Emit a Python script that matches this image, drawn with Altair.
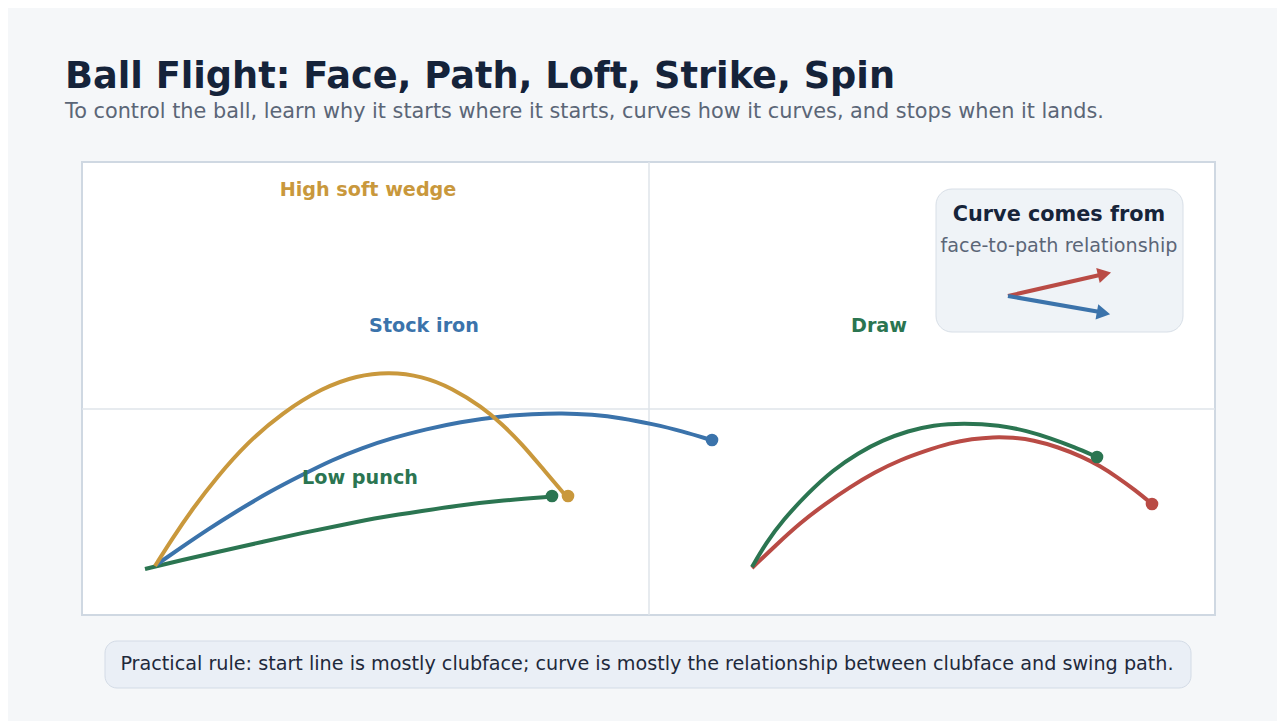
import altair as alt
import pandas as pd

# ---------------- data (chart units: downrange x, height y) ----------------
wedge_x = [73, 90, 110, 135, 165, 200, 240, 275, 307, 340, 370, 400, 420, 440, 461, 484]
wedge_y = [49, 76, 105.5, 138, 172, 202, 227, 239.5, 243, 239, 227, 208, 191, 171, 146, 119]

iron_x = [74, 100, 125, 155, 187, 220, 250, 280, 310, 345, 377, 420, 450, 480, 510, 540, 570, 600, 629]
iron_y = [50, 68, 85, 104, 123, 140, 155, 167, 177, 186, 193, 199, 201, 202, 200.5, 197, 191, 184, 175]

punch_x = [63, 100, 140, 180, 220, 260, 300, 340, 380, 420, 470]
punch_y = [46, 55, 64, 73, 82, 90, 98, 104, 110, 114.5, 118.5]

draw_x = [670, 684, 701, 726, 751, 776, 801, 826, 851, 881, 918, 945, 968, 992, 1015]
draw_y = [48, 72, 95, 122, 145, 162, 175, 184, 190, 192, 190, 184, 177, 168, 158]

fade_x = [670, 694, 718, 743, 768, 793, 818, 843, 868, 890, 911, 931, 951, 976, 1001, 1018, 1035, 1053, 1070]
fade_y = [47, 70, 92, 111, 128, 143, 155, 164, 172, 176, 178, 177.5, 175, 168, 158, 149, 138, 125, 111]

shots = ["Low punch", "Stock iron", "High soft wedge", "Fade", "Draw"]
land_x = [470, 630, 486, 1070, 1015]
land_y = [119, 175, 119, 111, 158]
colors = ["#2b7551", "#3b73ab", "#c9983c", "#b94b45", "#2b7551"]

panel_divider_x = [567]
ground_grid_y = [206]

TITLE = "Ball Flight: Face, Path, Loft, Strike, Spin"
SUBTITLE = ("To control the ball, learn why it starts where it starts, "
            "curves how it curves, and stops when it lands.")
NOTE = ("Practical rule: start line is mostly clubface; curve is mostly the "
        "relationship between clubface and swing path.")
LEGEND_TITLE = "Curve comes from"
LEGEND_SUB = "face-to-path relationship"

# ---------------- tables ----------------
rows = []
for name, xs_, ys_ in [("Low punch", punch_x, punch_y), ("Stock iron", iron_x, iron_y),
                       ("High soft wedge", wedge_x, wedge_y), ("Fade", fade_x, fade_y),
                       ("Draw", draw_x, draw_y)]:
    for i, (x, y) in enumerate(zip(xs_, ys_)):
        rows.append({"shot": name, "i": i, "x": x, "y": y})
traj = pd.DataFrame(rows)
land = pd.DataFrame({"shot": shots, "x": land_x, "y": land_y})

W, H = 1133, 453
xs = alt.Scale(domain=[0, W], nice=False, zero=False)
ys = alt.Scale(domain=[0, H], nice=False, zero=False)
cscale = alt.Scale(domain=shots, range=colors)
FONT = "DejaVu Sans"

grid = alt.Chart(pd.DataFrame({"gx": panel_divider_x, "gy": ground_grid_y})).mark_rule(
    color="#dfe4ea", strokeWidth=1.5
)
vgrid = grid.encode(x=alt.X("gx:Q", scale=xs, axis=None))
hgrid = grid.encode(y=alt.Y("gy:Q", scale=ys, axis=None))

lines = alt.Chart(traj).mark_line(strokeWidth=4, interpolate="basis", strokeCap="butt").encode(
    x=alt.X("x:Q", scale=xs, axis=None),
    y=alt.Y("y:Q", scale=ys, axis=None),
    color=alt.Color("shot:N", scale=cscale, legend=None),
    detail="shot:N",
    order="i:Q",
)
dots = alt.Chart(land).mark_point(filled=True, size=160, opacity=1).encode(
    x=alt.X("x:Q", scale=xs, axis=None),
    y=alt.Y("y:Q", scale=ys, axis=None),
    color=alt.Color("shot:N", scale=cscale, legend=None),
)

one = pd.DataFrame({"k": [0]})


def txt(text, x, y, size, color, weight="normal", align="left"):
    return alt.Chart(one).mark_text(
        text=text, font=FONT, fontSize=size, fontWeight=weight, color=color,
        align=align, baseline="alphabetic"
    ).encode(x=alt.value(x), y=alt.value(y))


def box(x1, x2, y1, y2, fill, stroke, r):
    return alt.Chart(one).mark_rect(
        fill=fill, stroke=stroke, strokeWidth=1, cornerRadius=r
    ).encode(x=alt.value(x1), x2=alt.value(x2), y=alt.value(y1), y2=alt.value(y2))


def rule(x1, y1, x2, y2, color):
    return alt.Chart(one).mark_rule(color=color, strokeWidth=4).encode(
        x=alt.value(x1), x2=alt.value(x2), y=alt.value(y1), y2=alt.value(y2)
    )


def head(x, y, angle, color):
    return alt.Chart(one).mark_point(
        shape="triangle-right", filled=True, size=240, color=color, opacity=1, angle=angle
    ).encode(x=alt.value(x), y=alt.value(y))


labels = [
    txt("High soft wedge", 286, 34, 19.2, "#c9983c", "bold", "center"),
    txt("Stock iron", 342, 170, 19.2, "#3b73ab", "bold", "center"),
    txt("Draw", 797, 170, 19.2, "#2b7551", "bold", "center"),
    txt("Low punch", 278, 322, 19.2, "#2b7551", "bold", "center"),
]

legend = [
    box(854, 1101, 27, 170, "#eff3f7", "#d8dfe7", 16),
    txt(LEGEND_TITLE, 977, 59, 20.8, "#16243a", "bold", "center"),
    txt(LEGEND_SUB, 977, 90, 19.2, "#5b6677", "normal", "center"),
    rule(926, 134, 1020, 112.5, "#b94b45"),
    head(1022.5, 112, 347, "#b94b45"),
    rule(926, 134, 1018, 150, "#3b73ab"),
    head(1021.5, 151, 10, "#3b73ab"),
]

header = [
    txt(TITLE, -17, -74, 36.7, "#15233a", "bold"),
    txt(SUBTITLE, -17, -44, 20.8, "#5b6677"),
]

note = [
    box(23, 1109, 479, 526, "#eaeff6", "#d3dbe6", 12),
    txt(NOTE, 565, 508, 19.2, "#1e293b", "normal", "center"),
]

chart = alt.layer(
    vgrid, hgrid, lines, dots, *labels, *legend, *header, *note
).properties(
    width=W, height=H,
    autosize=alt.AutoSizeParams(type="none"),
    padding={"left": 74, "top": 154, "right": 62, "bottom": 106},
    background="#f5f7f9",
).configure_view(
    fill="white", stroke="#cfd8e2", strokeWidth=2
)

chart.save("out.html", embed_options={"renderer": "svg", "actions": False})
